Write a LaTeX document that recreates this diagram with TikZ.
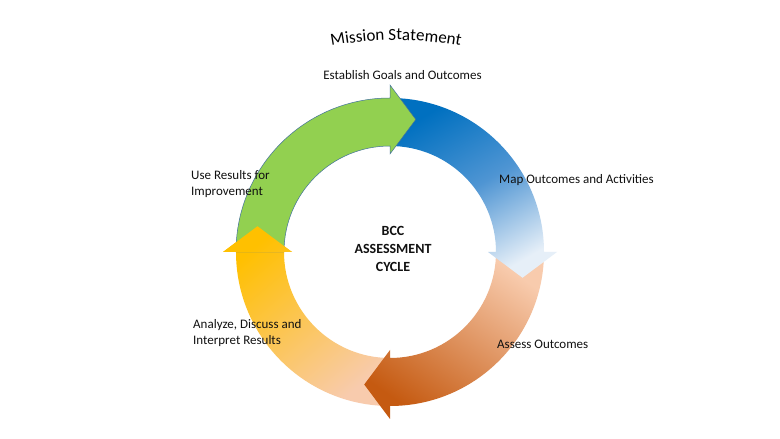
\documentclass[tikz,border=0pt]{standalone}
\usepackage{fontspec}
\setmainfont{Carlito}
\usetikzlibrary{decorations.text}
\definecolor{bccGreen}{HTML}{92D050}
\definecolor{bccEdge}{HTML}{41719C}
\definecolor{bccBlue}{HTML}{0070C0}
\definecolor{bccBlueMid}{HTML}{4F95D3}
\definecolor{bccBlueLight}{HTML}{E6EFF8}
\definecolor{bccPeach}{HTML}{F8CBAD}
\definecolor{bccRust}{HTML}{C55A11}
\definecolor{bccGold}{HTML}{FFC000}
\definecolor{bccInk}{HTML}{111111}
\newcommand{\ringIn}{106pt}
\newcommand{\ringOut}{154pt}
\newcommand{\headIn}{98pt}
\newcommand{\headOut}{167pt}
\newcommand{\tipR}{135pt}
\newcommand{\cyclepath}[1]{(#1:\ringIn) -- (#1:\ringOut) arc[start angle=#1, end angle=#1-90, radius=\ringOut] -- (#1-90:\headOut) -- (#1-101:\tipR) -- (#1-90:\headIn) -- (#1-90:\ringIn) arc[start angle=#1-90, end angle=#1, radius=\ringIn] -- cycle}
\newcommand{\headpath}[1]{(#1-90:\headOut) -- (#1-101:\tipR) -- (#1-90:\headIn) -- cycle}
\newcommand{\missionfont}{\fontsize{17}{20}\selectfont}
\tikzset{
    greenarrow/.style={fill=bccGreen, draw=bccEdge, line width=0.5pt},
    bluearrow/.style={top color=bccBlue, bottom color=bccBlueLight, middle color=bccBlueMid, shading angle=30},
    orangearrow/.style={top color=bccPeach, bottom color=bccRust, shading angle=-35},
    yellowarrow/.style={top color=bccGold, bottom color=bccPeach, shading angle=40},
    stagetext/.style={font=\fontsize{13}{16}\selectfont, inner sep=0pt, text=bccInk},
    hub/.style={stagetext, font=\bfseries\fontsize{14}{18}\selectfont, align=center}
}
\begin{document}
\begin{tikzpicture}[x=1pt, y=1pt]
    \useasboundingbox[fill=white] (0,0) rectangle (780,439);
    % ring of four arrows
    \begin{scope}[shift={(390,187)}]
        \path[yellowarrow] \cyclepath{-90};
        \path[orangearrow] \cyclepath{0};
        \path[bluearrow] \cyclepath{90};
        \path[greenarrow] \cyclepath{180};
        \begin{scope}
            \clip \headpath{-90};
            \path[yellowarrow] \cyclepath{-90};
        \end{scope}
    \end{scope}
    % arched title
    \begin{scope}[shift={(396,49)}]
        \path[decorate, decoration={text along path, text={|\missionfont|Mission Statement}, text align=center}] (103:350pt) arc[start angle=103, end angle=77, radius=350pt];
    \end{scope}
    \node[stagetext] (goals) at (402.5,364) {Establish Goals and Outcomes};
    \node[stagetext, anchor=west] (map) at (499,259) {Map Outcomes and Activities};
    \node[stagetext, anchor=west] (assess) at (497,95) {Assess Outcomes};
    \node[stagetext, anchor=west, align=left] (analyze) at (193,106) {Analyze, Discuss and\\Interpret Results};
    \node[stagetext, anchor=west, align=left] (improve) at (191,255) {Use Results for\\Improvement};
    \node[hub] (cycle) at (393,190) {BCC\\ASSESSMENT\\CYCLE};
\end{tikzpicture}
\end{document}
